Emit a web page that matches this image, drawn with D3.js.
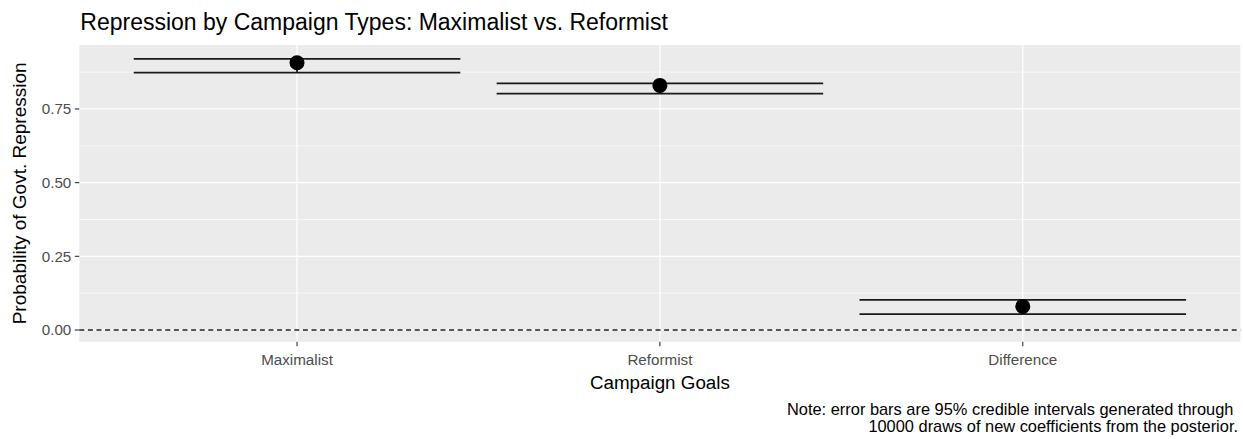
<!DOCTYPE html>
<html>
<head>
<meta charset="utf-8">
<script src="https://cdn.jsdelivr.net/npm/d3@7"></script>
<style>
  html, body { margin: 0; padding: 0; background: #ffffff; }
  svg { display: block; font-family: "Liberation Sans", Arial, sans-serif; }
</style>
</head>
<body>
<svg id="chart" width="1243" height="439"></svg>
<script>
// Posterior summaries of the probability of government repression
const categories = ["Maximalist", "Reformist", "Difference"];
const estimates  = [0.907, 0.830, 0.080];
const lowerBound = [0.873, 0.802, 0.054];
const upperBound = [0.920, 0.837, 0.102];
const yTicks      = [0, 0.25, 0.5, 0.75];
const yMinorTicks = [0.125, 0.375, 0.625, 0.875];
const yDomain     = [-0.0397, 0.967];

const titleText   = "Repression by Campaign Types: Maximalist vs. Reformist";
const xTitleText  = "Campaign Goals";
const yTitleText  = "Probability of Govt. Repression";
const captionLines = [
  "Note: error bars are 95% credible intervals generated through ",
  "10000 draws of new coefficients from the posterior."
];

const data = categories.map((c, i) => ({
  cat: c, est: estimates[i], lo: lowerBound[i], hi: upperBound[i]
}));

const panel = { left: 79.3, right: 1240.5, top: 45, bottom: 341.7 };
const svg = d3.select("#chart");

// Discrete x positions with ggplot-style 0.6 unit padding on each side
const xPos = d3.scaleLinear()
  .domain([0.4, categories.length + 0.6])
  .range([panel.left, panel.right]);
const x = c => xPos(categories.indexOf(c) + 1);
const unit = xPos(2) - xPos(1);

const y = d3.scaleLinear().domain(yDomain).range([panel.bottom, panel.top]);

// Panel background
svg.append("rect")
  .attr("x", panel.left).attr("y", panel.top)
  .attr("width", panel.right - panel.left)
  .attr("height", panel.bottom - panel.top)
  .attr("fill", "#EBEBEB");

const grid = svg.append("g");
grid.selectAll("line.minor").data(yMinorTicks).join("line")
  .attr("x1", panel.left).attr("x2", panel.right)
  .attr("y1", d => y(d)).attr("y2", d => y(d))
  .attr("stroke", "#ffffff").attr("stroke-width", 0.6);
grid.selectAll("line.majorY").data(yTicks).join("line")
  .attr("x1", panel.left).attr("x2", panel.right)
  .attr("y1", d => y(d)).attr("y2", d => y(d))
  .attr("stroke", "#ffffff").attr("stroke-width", 1.2);
grid.selectAll("line.majorX").data(categories).join("line")
  .attr("x1", d => x(d)).attr("x2", d => x(d))
  .attr("y1", panel.top).attr("y2", panel.bottom)
  .attr("stroke", "#ffffff").attr("stroke-width", 1.2);

// Reference line at zero
svg.append("line")
  .attr("x1", panel.left).attr("x2", panel.right)
  .attr("y1", y(0)).attr("y2", y(0))
  .attr("stroke", "#222222").attr("stroke-width", 1.3)
  .attr("stroke-dasharray", "5,3.6");

// Error bars (width 0.9 of a category slot)
const half = unit * 0.45;
const eb = svg.append("g").attr("stroke", "#1a1a1a").attr("stroke-width", 1.7);
data.forEach(d => {
  const cx = x(d.cat);
  eb.append("line").attr("x1", cx - half).attr("x2", cx + half)
    .attr("y1", y(d.hi)).attr("y2", y(d.hi));
  eb.append("line").attr("x1", cx - half).attr("x2", cx + half)
    .attr("y1", y(d.lo)).attr("y2", y(d.lo));
  eb.append("line").attr("x1", cx).attr("x2", cx)
    .attr("y1", y(d.hi)).attr("y2", y(d.lo));
});

// Point estimates
svg.append("g").selectAll("circle").data(data).join("circle")
  .attr("cx", d => x(d.cat)).attr("cy", d => y(d.est))
  .attr("r", 7.5).attr("fill", "#000000");

// Y axis ticks and labels
const yAxis = svg.append("g");
yAxis.selectAll("line").data(yTicks).join("line")
  .attr("x1", panel.left - 4.5).attr("x2", panel.left)
  .attr("y1", d => y(d)).attr("y2", d => y(d))
  .attr("stroke", "#333333").attr("stroke-width", 1.1);
yAxis.selectAll("text").data(yTicks).join("text")
  .attr("x", panel.left - 8).attr("y", d => y(d))
  .attr("dy", "0.36em").attr("text-anchor", "end")
  .attr("font-size", 15.2).attr("fill", "#4D4D4D")
  .text(d => d3.format(".2f")(d));

// X axis ticks and labels
const xAxis = svg.append("g");
xAxis.selectAll("line").data(categories).join("line")
  .attr("x1", d => x(d)).attr("x2", d => x(d))
  .attr("y1", panel.bottom).attr("y2", panel.bottom + 4.5)
  .attr("stroke", "#333333").attr("stroke-width", 1.1);
xAxis.selectAll("text").data(categories).join("text")
  .attr("x", d => x(d)).attr("y", panel.bottom + 23.5)
  .attr("text-anchor", "middle")
  .attr("font-size", 15.2).attr("fill", "#4D4D4D")
  .text(d => d);

// Titles
svg.append("text")
  .attr("x", panel.left + 1).attr("y", 30)
  .attr("font-size", 23).attr("fill", "#000000")
  .text(titleText);

svg.append("text")
  .attr("x", (panel.left + panel.right) / 2).attr("y", 389)
  .attr("text-anchor", "middle")
  .attr("font-size", 18.8).attr("fill", "#000000")
  .text(xTitleText);

svg.append("text")
  .attr("transform", `translate(26, ${(panel.top + panel.bottom) / 2}) rotate(-90)`)
  .attr("text-anchor", "middle")
  .attr("font-size", 19).attr("fill", "#000000")
  .text(yTitleText);

// Caption
svg.append("g").selectAll("text").data(captionLines).join("text")
  .attr("x", 1238).attr("y", (d, i) => 415 + i * 17)
  .attr("text-anchor", "end")
  .attr("font-size", 16.4).attr("fill", "#000000")
  .attr("xml:space", "preserve")
  .style("white-space", "pre")
  .text(d => d);
</script>
</body>
</html>
